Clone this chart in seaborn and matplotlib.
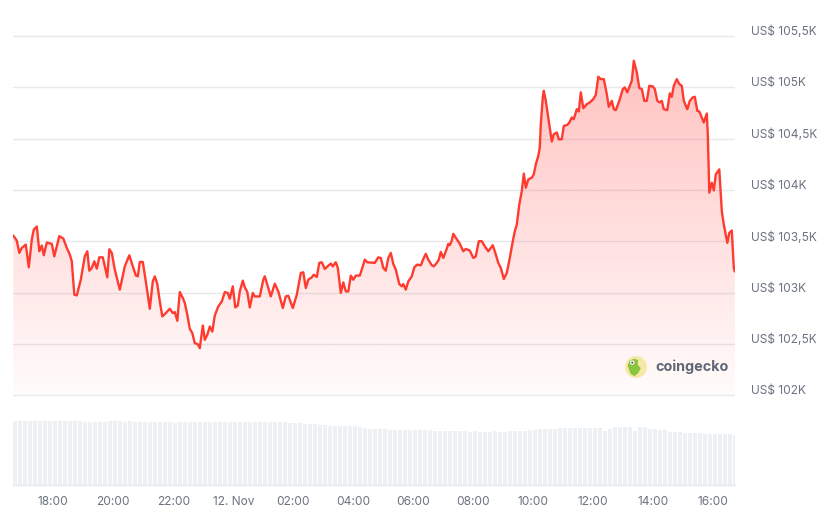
import numpy as np
import pandas as pd
import matplotlib
matplotlib.use("Agg")
import matplotlib.pyplot as plt
import matplotlib.dates as mdates
import matplotlib.transforms as mtransforms
from matplotlib.patches import Circle, Polygon
import seaborn as sns

# ---------------- data ----------------
start_time = "2024-11-11 16:40"
# minutes after start_time
minutes = [0, 7, 12, 17, 25, 31, 37, 41, 47, 52, 57, 61, 67, 77, 82, 92, 100, 107, 113, 117,
           122, 127, 135, 143, 148, 152, 157, 162, 167, 172, 179, 188, 192, 197, 203, 213, 223, 232, 240, 245,
           249, 253, 259, 265, 273, 279, 283, 288, 293, 298, 305, 313, 319, 323, 328, 333, 339, 343, 348, 353,
           358, 363, 369, 373, 379, 383, 388, 393, 398, 403, 410, 417, 423, 429, 433, 439, 444, 449, 453, 459,
           463, 468, 473, 479, 483, 493, 500, 503, 508, 515, 523, 530, 539, 545, 550, 559, 567, 575, 580, 585,
           590, 597, 601, 607, 612, 617, 623, 630, 635, 639, 645, 649, 655, 660, 665, 670, 675, 680, 685, 693,
           699, 703, 708, 723, 730, 735, 740, 745, 750, 755, 760, 765, 772, 777, 780, 785, 790, 797, 802, 808,
           815, 821, 825, 830, 837, 841, 847, 851, 855, 860, 867, 870, 873, 877, 880, 885, 892, 900, 905, 913,
           920, 925, 931, 937, 943, 950, 959, 965, 970, 975, 981, 987, 993, 999, 1003, 1007, 1012, 1017, 1021, 1025,
           1030, 1037, 1041, 1045, 1050, 1053, 1055, 1059, 1061, 1065, 1070, 1077, 1081, 1087, 1091, 1097, 1101, 1108, 1112, 1117,
           1121, 1127, 1131, 1135, 1140, 1147, 1153, 1160, 1165, 1170, 1175, 1181, 1187, 1191, 1197, 1201, 1205, 1212, 1219, 1223,
           1228, 1233, 1237, 1241, 1247, 1252, 1257, 1262, 1267, 1272, 1279, 1283, 1288, 1293, 1297, 1301, 1308, 1313, 1317, 1321,
           1327, 1332, 1337, 1341, 1348, 1353, 1359, 1363, 1368, 1372, 1377, 1381, 1387, 1389, 1392, 1397, 1401, 1405, 1412, 1417,
           1421, 1428, 1432, 1437, 1441, 1443]
prices = [103556, 103507, 103387, 103436, 103468, 103247, 103517, 103615, 103644, 103403, 103459, 103364, 103488, 103475, 103354, 103550, 103527, 103436, 103371, 103305,
          102980, 102973, 103126, 103354, 103403, 103214, 103241, 103305, 103234, 103344, 103344, 103149, 103423, 103387, 103224, 103029, 103256, 103364, 103241, 103168,
          103159, 103299, 103299, 103110, 102843, 103110, 103159, 103084, 102914, 102768, 102801, 102843, 102801, 102811, 102726, 103006, 102948, 102899, 102785, 102648,
          102606, 102508, 102498, 102459, 102680, 102540, 102589, 102670, 102621, 102778, 102866, 102914, 103006, 102997, 102941, 103061, 102856, 102875, 103012, 103117,
          103051, 103006, 102856, 102997, 102963, 102963, 103126, 103159, 103078, 102963, 103087, 103012, 102850, 102963, 102970, 102850, 102980, 103192, 103198, 103045,
          103126, 103149, 103175, 103153, 103290, 103296, 103231, 103263, 103283, 103256, 103296, 103241, 102997, 103100, 103012, 103012, 103166, 103126, 103166, 103166,
          103256, 103322, 103296, 103290, 103344, 103338, 103241, 103214, 103338, 103387, 103280, 103224, 103084, 103061, 103084, 103029, 103110, 103159, 103247, 103273,
          103266, 103338, 103378, 103322, 103266, 103256, 103290, 103322, 103397, 103338, 103429, 103475, 103462, 103507, 103573, 103534, 103485, 103403, 103426, 103410,
          103338, 103354, 103501, 103501, 103452, 103403, 103462, 103371, 103290, 103241, 103133, 103192, 103338, 103501, 103598, 103664, 103859, 103989, 104159, 104022,
          104103, 104120, 104152, 104250, 104331, 104413, 104641, 104902, 104966, 104868, 104706, 104472, 104543, 104560, 104494, 104494, 104624, 104634, 104657, 104706,
          104690, 104787, 104765, 104951, 104797, 104836, 104853, 104885, 104927, 105103, 105080, 105080, 104934, 104810, 104868, 104787, 104778, 104868, 104983, 104999,
          104951, 105015, 105064, 105259, 105146, 104993, 104983, 104868, 104868, 105015, 105009, 104983, 104868, 104853, 104868, 104787, 104778, 104941, 104908, 105015,
          105080, 105032, 105015, 104868, 104787, 104868, 104902, 104908, 104771, 104765, 104706, 104657, 104745, 104543, 103974, 104071, 103996, 104152, 104201, 103794,
          103664, 103485, 103583, 103605, 103241, 103205]

# volume bars, one per 10 minutes from start_time (relative units)
volume = [75.3, 75.3, 75.3, 75.3, 75.3, 75.3, 75.3, 75.3, 75.3, 75.3,
          74.9, 74.9, 74.9, 74.9,
          74.3, 74.5, 73.9, 74.5, 74.1,
          75.0, 75.1, 75.0, 74.6, 75.0, 74.6, 74.4,
          74.3, 74.1, 73.9, 74.3, 74.1, 73.7, 73.5, 73.6, 74.1, 74.0,
          74.0, 74.0, 74.0, 73.6, 73.8, 73.8, 73.8, 73.8, 74.0, 74.0,
          74.0, 74.0, 74.0, 74.0, 74.0, 74.0, 74.0, 73.9, 73.8,
          72.9, 72.4, 72.4, 71.6, 71.6, 71.2,
          70.6, 70.2, 69.8, 69.8, 69.4, 69.4, 69.4, 69.0,
          67.8, 66.7, 66.3, 66.3, 66.3, 66.3,
          64.7, 64.9, 64.7, 64.7, 64.7, 64.7, 64.9, 64.5, 64.3,
          63.9, 63.9, 63.5, 63.5, 63.5, 63.1, 63.1, 62.7, 63.1, 62.7, 62.9, 62.4, 63.1, 62.7,
          62.0, 63.1, 63.5, 63.9, 63.9, 64.3, 64.3, 65.5,
          65.9, 66.3, 66.3, 66.7, 66.7, 66.7, 67.1,
          67.1, 67.1, 67.1, 67.1, 67.1,
          63.9, 66.3,
          68.2, 68.6, 68.6, 68.6, 64.0, 68.6, 68.6,
          66.3, 65.5, 65.1, 64.7,
          62.4, 62.4, 62.0, 60.8, 60.8, 60.8, 61.2,
          60.4, 60.4, 59.6, 60.4, 60.0, 60.0, 59.2]

ytick_values = [102000, 102500, 103000, 103500, 104000, 104500, 105000, 105500]
ytick_labels = ["US$ 102K", "US$ 102,5K", "US$ 103K", "US$ 103,5K",
                "US$ 104K", "US$ 104,5K", "US$ 105K", "US$ 105,5K"]
xtick_times = ["2024-11-11 18:00", "2024-11-11 20:00", "2024-11-11 22:00", "2024-11-12 00:00",
               "2024-11-12 02:00", "2024-11-12 04:00", "2024-11-12 06:00", "2024-11-12 08:00",
               "2024-11-12 10:00", "2024-11-12 12:00", "2024-11-12 14:00", "2024-11-12 16:00"]
xtick_labels = ["18:00", "20:00", "22:00", "12. Nov", "02:00", "04:00", "06:00", "08:00",
                "10:00", "12:00", "14:00", "16:00"]

# ---------------- style ----------------
RED = "#ff3b30"
GRID = "#e6e9ee"
LABEL = "#6b7280"
BAR = "#eef1f4"

sns.set_style("white")
plt.rcParams['font.family'] = ['Inter', 'DejaVu Sans']

W, H = 831, 515
fig = plt.figure(figsize=(W / 100, H / 100), dpi=100)


def frame(x0, y0, x1, y1):
    return [x0 / W, 1 - y1 / H, (x1 - x0) / W, (y1 - y0) / H]


start = pd.Timestamp(start_time)
df = pd.DataFrame({"time": start + pd.to_timedelta(minutes, unit="m"), "price": prices})
xlim = (start, start + pd.Timedelta(minutes=1443.4))

# price axes (ylim extended a bit so edge gridlines are not clipped)
px_per_usd = 359.3 / 3500
ax = fig.add_axes(frame(13.3, 30, 735, 398))
ylim = (102000 - 2.7 / px_per_usd, 105500 + 6 / px_per_usd)
ax.set_ylim(*ylim)

sns.lineplot(data=df, x="time", y="price", ax=ax, color=RED, linewidth=1.7, zorder=4)
ax.set_xlim(*xlim)

# gradient fill under line
poly = ax.fill_between(df["time"], df["price"], 102000, facecolor="none", edgecolor="none")
grad = np.zeros((256, 1, 4))
grad[..., 0] = 1.0
grad[..., 1] = 0.23
grad[..., 2] = 0.20
grad[:, 0, 3] = np.linspace(0.02, 0.33, 256)
x0n, x1n = mdates.date2num(xlim[0]), mdates.date2num(xlim[1])
im = ax.imshow(grad, extent=[x0n, x1n, 102000, 105500], origin="lower",
               aspect="auto", zorder=2, interpolation="bilinear")
im.set_clip_path(poly.get_paths()[0], transform=ax.transData)
ax.set_xlim(*xlim)
ax.set_ylim(*ylim)

ax.set_yticks(ytick_values)
ax.set_yticklabels(ytick_labels)
ax.yaxis.tick_right()
ax.yaxis.grid(True, color=GRID, linewidth=1)
ax.xaxis.grid(False)
ax.tick_params(axis="y", length=0, pad=11.5, labelsize=8.6, labelcolor=LABEL)
ax.tick_params(axis="x", bottom=False, labelbottom=False)
ax.set_xlabel("")
ax.set_ylabel("")
for s in ax.spines.values():
    s.set_visible(False)
offset = mtransforms.ScaledTranslation(0, 0.055, fig.dpi_scale_trans)
for lab in ax.get_yticklabels():
    lab.set_transform(lab.get_transform() + offset)

# volume axes
axv = fig.add_axes(frame(13.3, 400, 735, 485))
vol_times = start + pd.to_timedelta(np.arange(len(volume)) * 10, unit="m")
axv.bar(vol_times, volume, width=8 / 1440, align="edge", color=BAR, linewidth=0)
axv.set_xlim(*xlim)
axv.set_ylim(0, 100)
axv.set_yticks([])
axv.set_xticks(pd.to_datetime(xtick_times))
axv.set_xticklabels(xtick_labels)
axv.tick_params(axis="x", length=4, color="#d9dde3", labelsize=8.6, labelcolor=LABEL, pad=4)
for k, s in axv.spines.items():
    s.set_visible(k == "bottom")
axv.spines["bottom"].set_color(GRID)
axv.spines["bottom"].set_linewidth(1)

# coingecko watermark
lax = fig.add_axes(frame(625, 356, 647, 378))
lax.set_xlim(0, 1)
lax.set_ylim(0, 1)
lax.axis("off")
lax.add_patch(Circle((0.5, 0.5), 0.5, facecolor="#f6e9a8", edgecolor="none"))
lax.add_patch(Polygon([(0.12, 0.55), (0.2, 0.78), (0.4, 0.88), (0.6, 0.82), (0.58, 0.6),
                       (0.72, 0.45), (0.6, 0.22), (0.42, 0.08), (0.25, 0.2)],
                      closed=True, facecolor="#8bc53f", edgecolor="none"))
lax.add_patch(Circle((0.33, 0.7), 0.1, facecolor="white", edgecolor="none"))
lax.add_patch(Circle((0.33, 0.7), 0.045, facecolor="#4a4a4a", edgecolor="none"))
fig.text(655 / W, 1 - 367 / H, "coingecko", ha="left", va="center",
         fontsize=10.3, fontweight="bold", color="#5f6675")

fig.savefig("out.png", dpi=100)
